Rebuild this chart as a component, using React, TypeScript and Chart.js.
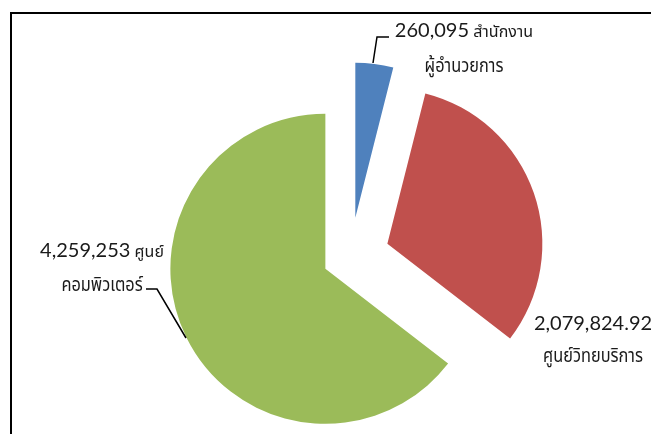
import React, { useEffect, useRef } from "react";
import { Chart, registerables } from "chart.js";

Chart.register(...registerables);

const categories = ["สำนักงานผู้อำนวยการ", "ศูนย์วิทยบริการ", "ศูนย์คอมพิวเตอร์"];
const values = [260095, 2079824.92, 4259253];
// category text split as shown on the two label lines
const labelFirstLineText = ["สำนักงาน", "", "ศูนย์"];
const labelSecondLineText = ["ผู้อำนวยการ", "ศูนย์วิทยบริการ", "คอมพิวเตอร์"];
const colors = ["#4F81BD", "#C0504D", "#9BBB59"];

const NUM_FONT = "20px Lato, 'Noto Sans', sans-serif";
const THAI_SMALL = "16px 'Noto Sans Thai', Tahoma, 'Noto Sans', sans-serif";
const THAI_BIG = "19px 'Noto Sans Thai', Tahoma, 'Noto Sans', sans-serif";
const THAI_BIG_SCALE = 0.86;
const EXPLODE = [39, 39, 28];

const fmt = (v: number) => v.toLocaleString("en-US", { maximumFractionDigits: 2 });

const explodePlugin = {
  id: "explode",
  afterDatasetsUpdate(chart: any) {
    const meta = chart.getDatasetMeta(0);
    meta.data.forEach((arc: any, i: number) => {
      const mid = (arc.startAngle + arc.endAngle) / 2;
      arc.x += EXPLODE[i] * Math.cos(mid);
      arc.y += EXPLODE[i] * Math.sin(mid);
    });
  },
};

const labelPlugin = {
  id: "pieLabels",
  beforeDraw(chart: any) {
    const ctx = chart.ctx;
    ctx.save();
    ctx.fillStyle = "#000";
    ctx.fillRect(10, 12, 2, 440);
    ctx.fillRect(10, 12, 660, 2);
    ctx.restore();
  },
  afterDraw(chart: any) {
    const ctx = chart.ctx;
    // label block centres and baselines (label placement)
    const place = [
      { x: 464, y1: 37, y2: 72 },
      { x: 593, y1: 330, y2: 362 },
      { x: 102, y1: 257, y2: 291 },
    ];
    ctx.save();
    ctx.fillStyle = "#1a1a1a";
    ctx.textBaseline = "alphabetic";
    values.forEach((v, i) => {
      const p = place[i];
      const num = fmt(v);
      ctx.font = NUM_FONT;
      const wn = ctx.measureText(num).width;
      ctx.font = THAI_SMALL;
      const t1 = labelFirstLineText[i] ? " " + labelFirstLineText[i] : "";
      const wt = t1 ? ctx.measureText(t1).width : 0;
      const x0 = p.x - (wn + wt) / 2;
      ctx.font = NUM_FONT;
      ctx.textAlign = "left";
      ctx.fillText(num, x0, p.y1);
      if (t1) {
        ctx.font = THAI_SMALL;
        ctx.fillText(t1, x0 + wn, p.y1);
      }
      ctx.font = THAI_BIG;
      ctx.textAlign = "center";
      ctx.save();
      ctx.translate(p.x, p.y2);
      ctx.scale(THAI_BIG_SCALE, 1);
      ctx.fillText(labelSecondLineText[i], 0, 0);
      ctx.restore();
    });
    // leader lines
    ctx.strokeStyle = "#000";
    ctx.lineWidth = 1.5;
    ctx.beginPath();
    ctx.moveTo(373, 63);
    ctx.lineTo(377, 37);
    ctx.lineTo(389, 37);
    ctx.stroke();
    ctx.beginPath();
    ctx.moveTo(146, 289);
    ctx.lineTo(157, 289);
    ctx.lineTo(186, 338);
    ctx.stroke();
    ctx.restore();
  },
};

export default function App() {
  const ref = useRef<HTMLCanvasElement | null>(null);
  useEffect(() => {
    if (!ref.current) return;
    const chart = new Chart(ref.current, {
      type: "pie",
      data: {
        labels: categories,
        datasets: [
          {
            data: values,
            backgroundColor: colors,
            borderWidth: 0,
            clip: false,
          } as any,
        ],
      },
      options: {
        responsive: false,
        animation: false,
        radius: 155,
        layout: { padding: { left: 50, right: 0, top: 79, bottom: 0 } },
        plugins: { legend: { display: false }, tooltip: { enabled: false } },
      } as any,
      plugins: [explodePlugin, labelPlugin],
    });
    return () => chart.destroy();
  }, []);
  return (
    <div style={{ position: "absolute", left: 0, top: 0, width: 651, height: 434, background: "#fff" }}>
      <canvas ref={ref} width={651} height={434} style={{ width: 651, height: 434, display: "block" }} />
    </div>
  );
}
